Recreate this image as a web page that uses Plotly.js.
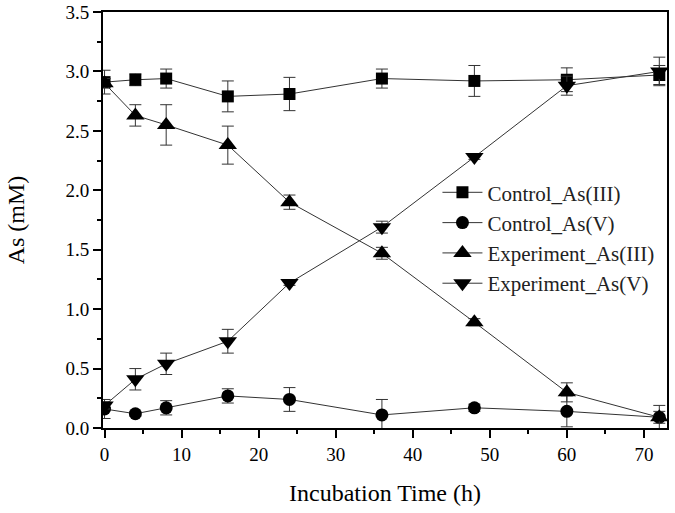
<!DOCTYPE html>
<html>
<head>
<meta charset="utf-8">
<script src="https://cdn.plot.ly/plotly-3.0.1.min.js"></script>
<style>html,body{margin:0;padding:0;background:#fff}#chart{width:675px;height:513px}</style>
</head>
<body>
<div id="chart"></div>
<script>
const time = [0, 4, 8, 16, 24, 36, 48, 60, 72];
const controlAsIII = [2.91, 2.93, 2.94, 2.79, 2.81, 2.94, 2.92, 2.93, 2.97];
const controlAsIIIErr = [0.10, 0.05, 0.08, 0.13, 0.14, 0.08, 0.13, 0.10, 0.08];
const controlAsV = [0.16, 0.12, 0.17, 0.27, 0.24, 0.11, 0.17, 0.14, 0.09];
const controlAsVErr = [0.08, 0.02, 0.06, 0.06, 0.10, 0.13, 0.03, 0.13, 0.10];
const expAsIII = [2.90, 2.63, 2.55, 2.38, 1.90, 1.47, 0.89, 0.30, 0.09];
const expAsIIIErr = [0.04, 0.09, 0.17, 0.16, 0.06, 0.05, 0.03, 0.08, 0.05];
const expAsV = [0.19, 0.41, 0.54, 0.73, 1.22, 1.69, 2.28, 2.88, 3.00];
const expAsVErr = [0.03, 0.09, 0.09, 0.10, 0.02, 0.05, 0.02, 0.08, 0.12];
const names = ['Control_As(III)', 'Control_As(V)', 'Experiment_As(III)', 'Experiment_As(V)'];

const F = 'Liberation Serif, Times New Roman, serif';
function tr(name, y, err, sym, size) {
  return {
    x: time, y: y, name: name, type: 'scatter', mode: 'lines+markers',
    line: {color: '#333', width: 1},
    marker: {symbol: sym, size: size, color: '#000'},
    error_y: {type: 'data', array: err, visible: true, color: '#333', thickness: 1, width: 6}
  };
}
const data = [
  tr(names[0], controlAsIII, controlAsIIIErr, 'square', 12),
  tr(names[1], controlAsV, controlAsVErr, 'circle', 13),
  tr(names[2], expAsIII, expAsIIIErr, 'triangle-up', 16),
  tr(names[3], expAsV, expAsVErr, 'triangle-down', 16)
];
const layout = {
  width: 675, height: 513,
  margin: {l: 103, r: 8, t: 12, b: 85},
  paper_bgcolor: '#fff', plot_bgcolor: '#fff',
  font: {family: F, color: '#000', size: 19},
  showlegend: true,
  legend: {x: 0.593, y: 0.615, xanchor: 'left', yanchor: 'top', bgcolor: 'rgba(0,0,0,0)',
           font: {family: F, size: 21, color: '#222'}, tracegroupgap: 0, itemwidth: 40},
  xaxis: {
    range: [-0.2, 73], tickmode: 'linear', tick0: 0, dtick: 10,
    showgrid: false, zeroline: false, showline: true, linecolor: '#000', linewidth: 2,
    mirror: true, ticks: 'outside', ticklen: 8, tickwidth: 2, tickcolor: '#000',
    minor: {dtick: 5, ticklen: 4, tickwidth: 2, tickcolor: '#000', ticks: 'outside'},
    tickfont: {family: F, size: 19},
    title: {text: 'Incubation Time (h)', font: {family: F, size: 24}, standoff: 20}
  },
  yaxis: {
    range: [0, 3.5], tickmode: 'linear', tick0: 0, dtick: 0.5, tickformat: '.1f',
    showgrid: false, zeroline: false, showline: true, linecolor: '#000', linewidth: 2,
    mirror: true, ticks: 'outside', ticklen: 8, tickwidth: 2, tickcolor: '#000',
    minor: {dtick: 0.25, ticklen: 4, tickwidth: 2, tickcolor: '#000', ticks: 'outside'},
    tickfont: {family: F, size: 19},
    title: {text: 'As (mM)', font: {family: F, size: 24}, standoff: 34}
  }
};
Plotly.newPlot('chart', data, layout, {displayModeBar: false, staticPlot: true});
</script>
</body>
</html>
